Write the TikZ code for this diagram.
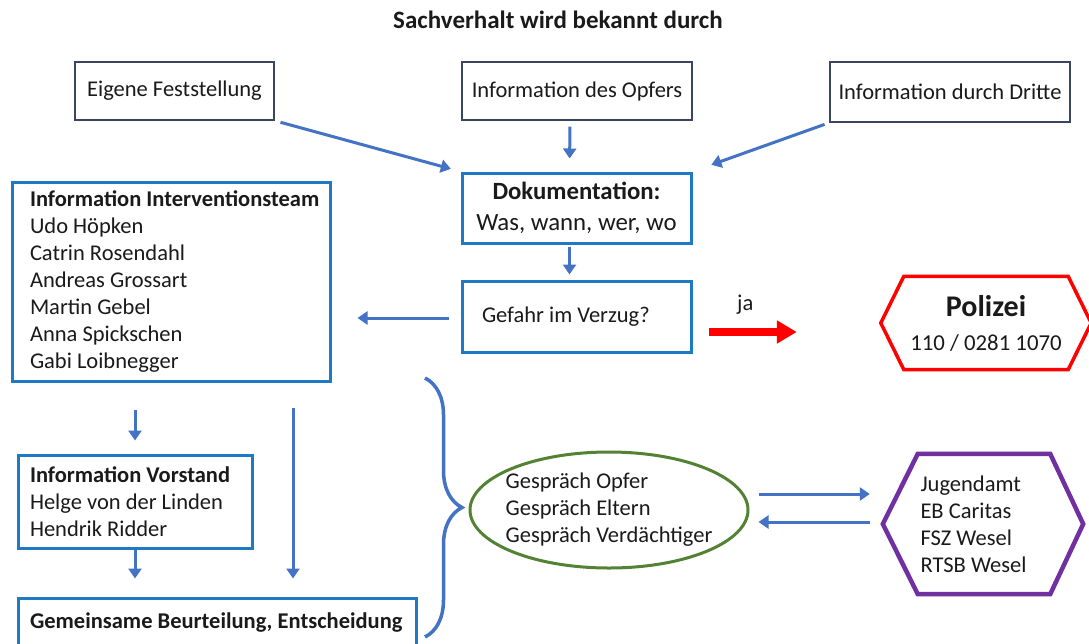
\documentclass[tikz,border=0pt]{standalone}
\usepackage{fontspec}
\setmainfont{Carlito}
\usetikzlibrary{arrows.meta}
\usetikzlibrary{shapes.geometric}
\usetikzlibrary{calc}
\usetikzlibrary{decorations.pathreplacing}

\definecolor{pfeilblau}{HTML}{4472C4}
\definecolor{rahmenblau}{HTML}{1F7AC6}
\definecolor{rahmendunkel}{HTML}{3A4560}
\definecolor{schrift}{HTML}{1A1A1A}
\definecolor{gruen}{HTML}{548235}
\definecolor{lila}{HTML}{7030A0}

\tikzset{
  quelle/.style={draw=rahmendunkel, line width=1.4pt, minimum height=58pt, inner sep=0pt},
  infobox/.style={draw=rahmenblau, line width=3pt, align=flush left},
  pfeil/.style={draw=pfeilblau, line width=3pt, -{Triangle[length=10pt,width=13pt]}},
}

\begin{document}
\begin{tikzpicture}[x=1pt, y=-1pt, font=\fontsize{22.5}{27}\selectfont, text=schrift]
  \useasboundingbox (0,0) rectangle (1089,643);
  \fill[white] (0,0) rectangle (1089,643);

  % Quellen
  \node[font=\fontsize{25}{30}\selectfont\bfseries] (titel) at (558,20) {Sachverhalt wird bekannt durch};
  \node[quelle, minimum width=199pt] (eigen) at (174.5,91) {Eigene Feststellung};
  \node[quelle, minimum width=230pt] (opfer) at (577,91) {Information des Opfers};
  \node[quelle, minimum width=240pt, minimum height=60pt] (dritte) at (950,92) {Information durch Dritte};

  % Ablauf
  \node[infobox, align=center, minimum width=229pt, minimum height=70pt, inner sep=0pt, font=\fontsize{24.8}{31}\selectfont] (doku) at (576.5,208) {\textbf{Dokumentation:}\\Was, wann, wer, wo};
  \node[infobox, text width=189pt, inner xsep=20pt, minimum height=71pt] (gefahr) at (576.5,316.5) {Gefahr im Verzug?};
  \node[minimum width=210pt, minimum height=93pt, align=center, inner sep=0pt, font=\fontsize{22.8}{34}\selectfont] (polizei) at (986,323) {{\fontsize{30}{34}\selectfont\bfseries Polizei}\\110 / 0281 1070};
  \draw[draw=red, line width=3.5pt] (polizei.west) -- ($(polizei.north west)+(23,0)$) -- ($(polizei.north east)+(-23,0)$) -- (polizei.east) -- ($(polizei.south east)+(-23,0)$) -- ($(polizei.south west)+(23,0)$) -- cycle;

  % Team und Vorstand
  \node[infobox, text width=282pt, inner xsep=18pt, minimum height=199pt] (team) at (171,281.5) {\mbox{\textbf{Information Interventionsteam}}\\Udo Höpken\\Catrin Rosendahl\\Andreas Grossart\\Martin Gebel\\Anna Spickschen\\Gabi Loibnegger};
  \node[infobox, text width=210pt, inner xsep=12pt, minimum height=93pt] (vorstand) at (135,501.5) {\textbf{Information Vorstand}\\Helge von der Linden\\Hendrik Ridder};
  \node[infobox, text width=374pt, inner xsep=12pt, minimum height=50pt] (gemeinsam) at (217,623) {\textbf{Gemeinsame Beurteilung, Entscheidung}};

  % Gespraeche und Stellen
  \node[ellipse, draw=gruen, line width=3pt, minimum width=278pt, minimum height=116pt, align=left, inner xsep=-5.5pt, inner ysep=0pt] (gespraech) at (609,510) {Gespräch Opfer\\Gespräch Eltern\\Gespräch Verdächtiger};
  \node[text width=125pt, minimum width=200pt, minimum height=140pt, align=flush left, inner sep=0pt] (stellen) at (983,524) {Jugendamt\\EB Caritas\\FSZ Wesel\\RTSB Wesel};
  \draw[draw=lila, line width=4.5pt] (stellen.west) -- ($(stellen.north west)+(35,0)$) -- ($(stellen.north east)+(-33,0)$) -- (stellen.east) -- ($(stellen.south east)+(-33,0)$) -- ($(stellen.south west)+(35,0)$) -- cycle;

  % Klammer
  \coordinate (klammeroben) at (425,378);
  \coordinate (klammerunten) at (425,637);
  \draw[draw=pfeilblau, line width=3.5pt, decorate, decoration={brace, amplitude=37pt}] (klammeroben) -- (klammerunten);

  % Pfeile
  \draw[pfeil, shorten <=6pt, shorten >=10pt] (eigen.south east) -- (doku.north west);
  \draw[pfeil, shorten <=6pt, shorten >=13pt] ([xshift=-7pt]opfer.south) -- ([xshift=-7pt]doku.north);
  \draw[pfeil, shorten <=5pt, shorten >=20pt] (dritte.south west) -- (doku.north east);
  \draw[pfeil, shorten <=2pt, shorten >=5pt] ([xshift=-7pt]doku.south) -- ([xshift=-7pt]gefahr.north);
  \draw[pfeil, shorten <=12pt, shorten >=26pt] ($(gefahr.west)+(0,1.5)$) -- ($(gefahr.west -| team.east)+(0,1.5)$);
  \draw[draw=red, line width=8pt, -{Triangle[length=20pt,width=22pt]}, shorten <=16pt, shorten >=84pt] ($(gefahr.east)+(0,15.5)$) -- ($(gefahr.east -| polizei.west)+(0,15.5)$) node[pos=0.28, above=10pt, text=schrift] (ja) {ja};
  \draw[pfeil, shorten <=27pt, shorten >=13pt] (vorstand.north |- team.south) -- (vorstand.north);
  \coordinate (abzweig) at (293,381);
  \draw[pfeil, shorten <=27pt, shorten >=18pt] (abzweig) -- (abzweig |- gemeinsam.north);
  \draw[pfeil, shorten >=18pt] (vorstand.south) -- (vorstand.south |- gemeinsam.north);
  \draw[pfeil, shorten <=9pt, shorten >=13pt] ($(gespraech.east)+(0,-16)$) -- ($(gespraech.east -| stellen.west)+(0,-16)$);
  \draw[pfeil, shorten <=13pt, shorten >=9pt] ($(gespraech.east -| stellen.west)+(0,12)$) -- ($(gespraech.east)+(0,12)$);
\end{tikzpicture}
\end{document}
